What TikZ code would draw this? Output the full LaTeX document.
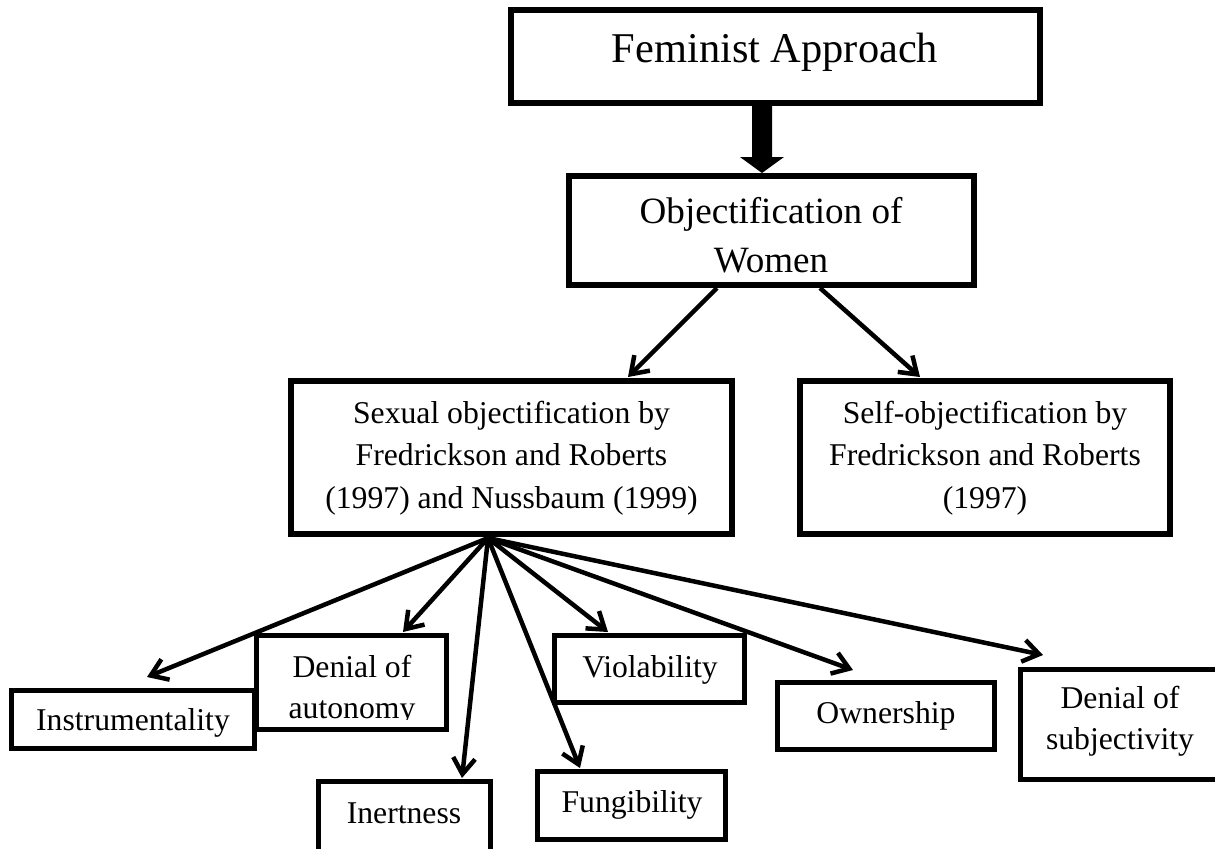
\documentclass[tikz,border=0pt]{standalone}
\usepackage{fontspec}
\setmainfont{Liberation Serif}
\usetikzlibrary{arrows.meta,calc}
\newcommand\fsA{\fontsize{21.2pt}{25pt}\selectfont}
\newcommand\fsB{\fontsize{18.55pt}{24.5pt}\selectfont}
\newcommand\fsC{\fontsize{15.85pt}{21.25pt}\selectfont}
\newcommand\fsD{\fontsize{15.85pt}{20.75pt}\selectfont}
\begin{document}
\begin{tikzpicture}[x=0.5pt,y=-0.5pt,
  bigbox/.style={draw,line width=3pt,inner sep=0pt},
  smallbox/.style={draw,line width=2.5pt,inner sep=0pt},
  txt/.style={anchor=base,inner sep=0pt},
  arr/.style={line width=2.25pt,-{Straight Barb[length=8pt,width=11pt]}}]
\useasboundingbox (0,0) rectangle (1215,848);
\clip (0,0) rectangle (1215,848);
% boxes
\node[bigbox,minimum width=264.5pt,minimum height=46.5pt] (fem) at (775.5,56.5) {};
\node[bigbox,minimum width=202.5pt,minimum height=54.5pt] (obj) at (771.5,230.5) {};
\node[bigbox,minimum width=220.5pt,minimum height=76.5pt] (sex) at (511.5,457.5) {};
\node[bigbox,minimum width=185pt,minimum height=76.5pt] (self) at (985,457.5) {};
\node[smallbox,minimum width=121.5pt,minimum height=29pt] (ins) at (133,719.5) {};
\node[smallbox,minimum width=95pt,minimum height=47pt] (aut) at (351.5,682.5) {};
\node[smallbox,minimum width=86pt,minimum height=43pt] (ine) at (404.5,824.5) {};
\node[smallbox,minimum width=94pt,minimum height=34pt] (fun) at (631.5,805.5) {};
\node[smallbox,minimum width=95pt,minimum height=33.5pt] (vio) at (649.5,669) {};
\node[smallbox,minimum width=108.5pt,minimum height=33.5pt] (own) at (886,716) {};
\node[smallbox,minimum width=99.5pt,minimum height=55pt] (sub) at (1120,724.5) {};
% texts
\node[txt] (femt) at (775,62) {\fsA Feminist Approach};
\node[txt] (objt) at (771,223) {\fsB\begin{tabular}[t]{@{}c@{}}Objectification of\\Women\end{tabular}};
\node[txt] (sext) at (511.5,423) {\fsC\begin{tabular}[t]{@{}c@{}}Sexual objectification by\\Fredrickson and Roberts\\(1997) and Nussbaum (1999)\end{tabular}};
\node[txt] (selft) at (985,423) {\fsC\begin{tabular}[t]{@{}c@{}}Self-objectification by\\Fredrickson and Roberts\\(1997)\end{tabular}};
\node[txt] (inst) at (133,730) {\fsC Instrumentality};
\begin{scope}
\clip (254,633) rectangle (449,719);
\node[txt] (autt) at (352,677) {\fsD\begin{tabular}[t]{@{}c@{}}Denial of\\autonomy\end{tabular}};
\end{scope}
\node[txt] (inet) at (404,823) {\fsC Inertness};
\node[txt] (funt) at (632,812) {\fsC Fungibility};
\node[txt] (viot) at (650,677) {\fsC Violability};
\node[txt] (ownt) at (886,723) {\fsC Ownership};
\node[txt] (subt) at (1120,708) {\fsD\begin{tabular}[t]{@{}c@{}}Denial of\\subjectivity\end{tabular}};
% block arrow
\coordinate (ta) at (fem.south -| 762,0);
\coordinate (tb) at (obj.north -| 762,0);
\fill ($(ta)+(-10,0)$) -- ($(tb)+(-10,-16)$) -- ($(tb)+(-22,-16)$) -- (tb)
  -- ($(tb)+(22,-16)$) -- ($(tb)+(10,-16)$) -- ($(ta)+(10,0)$) -- cycle;
% second level arrows
\draw[arr] ([xshift=-27.25pt]obj.south) -- ([xshift=58.25pt,yshift=0.5pt]sex.north);
\draw[arr] ([xshift=24.25pt]obj.south) -- ([xshift=-32.5pt,yshift=0.5pt]self.north);
% fan
\coordinate (fan) at ([xshift=-11.75pt,yshift=-0.5pt]sex.south);
\coordinate (tIns) at ([xshift=7pt,yshift=5.5pt]ins.north);
\coordinate (tAut) at ([xshift=25.75pt,yshift=0.5pt]aut.north);
\coordinate (tIne) at ([xshift=28.75pt,yshift=0.5pt]ine.north);
\coordinate (tFun) at ([xshift=-25.75pt,yshift=0.5pt]fun.north);
\coordinate (tVio) at ([xshift=-20.75pt,yshift=0.5pt]vio.north);
\coordinate (tOwn) at ([xshift=-16.5pt,yshift=5pt]own.north);
\coordinate (tSub) at ([xshift=-38.5pt,yshift=6pt]sub.north);
\foreach \t in {tIns,tAut,tIne,tFun,tVio,tOwn,tSub}
  \draw[arr] (fan) -- (\t);
\end{tikzpicture}
\end{document}
